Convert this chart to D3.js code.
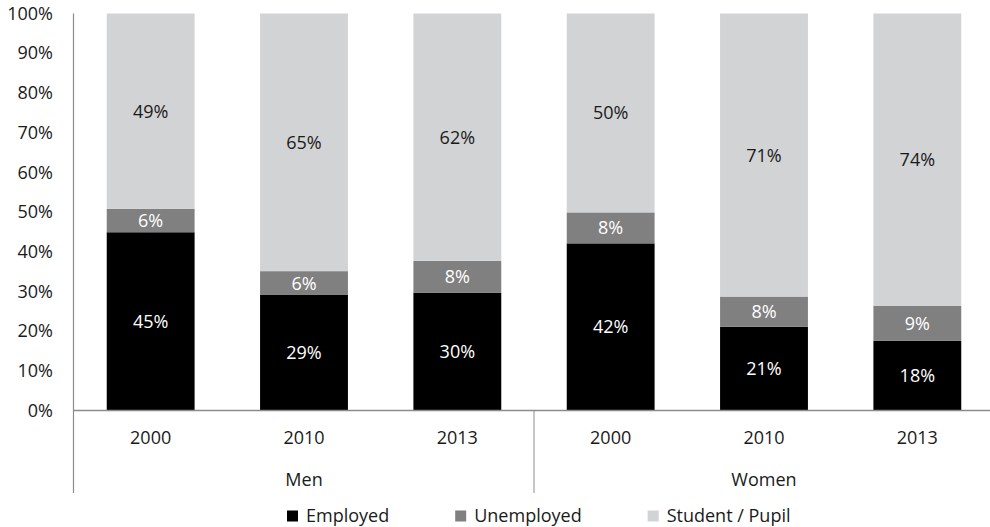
<!DOCTYPE html>
<html>
<head>
<meta charset="utf-8">
<script src="https://cdn.jsdelivr.net/npm/d3@7/dist/d3.min.js"></script>
<style>
  html, body { margin: 0; padding: 0; background: #fff; }
  svg { display: block; font-family: "Open Sans", sans-serif; }
</style>
</head>
<body>
<svg id="chart" width="990" height="527"></svg>
<script>
// Activity status of young people by sex and year (share of each group, %)
const groups = ["Men", "Women"];
const years = ["2000", "2010", "2013"];
const seriesNames = ["Employed", "Unemployed", "Student / Pupil"];
const employed   = [44.9, 29.1, 29.7, 42.1, 21.1, 17.6];
const unemployed = [5.9, 6.0, 8.0, 7.8, 7.6, 8.8];
const student    = [49.2, 64.9, 62.3, 50.1, 71.3, 73.6];
const yTicks = [0, 10, 20, 30, 40, 50, 60, 70, 80, 90, 100];

const colors = ["#000000", "#808080", "#d2d3d5"];
const labelColors = ["#ffffff", "#ffffff", "#1a1a1a"];
const fontSize = 18;

// One row per bar: group + year
const rows = [];
groups.forEach((g, gi) => years.forEach((yr, yi) => {
  const i = gi * years.length + yi;
  rows.push({ key: g + "-" + yr, group: g, year: yr,
    "Employed": employed[i], "Unemployed": unemployed[i], "Student / Pupil": student[i] });
}));

const svg = d3.select("#chart");
const plotLeft = 74, plotRight = 994, plotTop = 13.5, plotBottom = 410.5;

const x = d3.scaleBand().domain(rows.map(d => d.key)).range([plotLeft, plotRight])
  .paddingInner(0.427).paddingOuter(0.2135);
const y = d3.scaleLinear().domain([0, 100]).range([plotBottom, plotTop]);

const layers = d3.stack().keys(seriesNames)(rows);

// Bars
svg.append("g").selectAll("g").data(layers).join("g")
  .attr("fill", (d, i) => colors[i])
  .selectAll("rect").data(d => d).join("rect")
  .attr("x", d => x(d.data.key))
  .attr("width", x.bandwidth())
  .attr("y", d => y(d[1]))
  .attr("height", d => y(d[0]) - y(d[1]));

// Value labels centred in each segment
const fmt = v => Math.round(v) + "%";
svg.append("g").selectAll("g").data(layers).join("g")
  .attr("fill", (d, i) => labelColors[i])
  .selectAll("text").data(d => d).join("text")
  .attr("x", d => x(d.data.key) + x.bandwidth() / 2)
  .attr("y", d => (y(d[0]) + y(d[1])) / 2)
  .attr("dy", "0.36em")
  .attr("text-anchor", "middle")
  .attr("font-size", fontSize)
  .text(d => fmt(d[1] - d[0]));

// Y axis labels
const yAxis = d3.axisLeft(y).tickValues(yTicks).tickFormat(d => d + "%").tickSize(0).tickPadding(20.5);
const yg = svg.append("g").attr("transform", `translate(${plotLeft - 0.5},0)`).call(yAxis);
yg.select(".domain").remove();
yg.selectAll("text").attr("font-size", fontSize).attr("fill", "#1a1a1a").attr("font-family", "Open Sans, sans-serif");

const axisColor = "#8c8c8c";
// Axis lines
svg.append("line").attr("x1", plotLeft - 0.5).attr("x2", plotLeft - 0.5).attr("y1", plotTop).attr("y2", 493)
  .attr("stroke", axisColor).attr("stroke-width", 1.2);
svg.append("line").attr("x1", plotLeft - 0.5).attr("x2", plotRight).attr("y1", plotBottom).attr("y2", plotBottom)
  .attr("stroke", axisColor).attr("stroke-width", 1.5);

// Group separators below the axis
const step = x.step();
groups.forEach((g, gi) => {
  const gx = plotLeft + (gi + 1) * years.length * step;
  svg.append("line").attr("x1", gx).attr("x2", gx).attr("y1", plotBottom).attr("y2", 493)
    .attr("stroke", axisColor).attr("stroke-width", 1);
});

// Year labels
svg.append("g").selectAll("text").data(rows).join("text")
  .attr("x", d => x(d.key) + x.bandwidth() / 2)
  .attr("y", 438).attr("dy", "0.36em")
  .attr("text-anchor", "middle").attr("font-size", fontSize).attr("fill", "#1a1a1a")
  .text(d => d.year);

// Group labels
svg.append("g").selectAll("text").data(groups).join("text")
  .attr("x", (d, i) => plotLeft + (i * years.length + years.length / 2) * step)
  .attr("y", 480).attr("dy", "0.36em")
  .attr("text-anchor", "middle").attr("font-size", fontSize).attr("fill", "#1a1a1a")
  .text(d => d);

// Legend
const legend = svg.append("g");
let lx = 287;
seriesNames.forEach((name, i) => {
  legend.append("rect").attr("x", lx).attr("y", 510.5).attr("width", 11).attr("height", 11).attr("fill", colors[i]);
  const t = legend.append("text").attr("x", lx + 19).attr("y", 516).attr("dy", "0.36em")
    .attr("font-size", fontSize).attr("fill", "#1a1a1a").text(name);
  lx += 19 + t.node().getComputedTextLength() + 66;
});
</script>
</body>
</html>
